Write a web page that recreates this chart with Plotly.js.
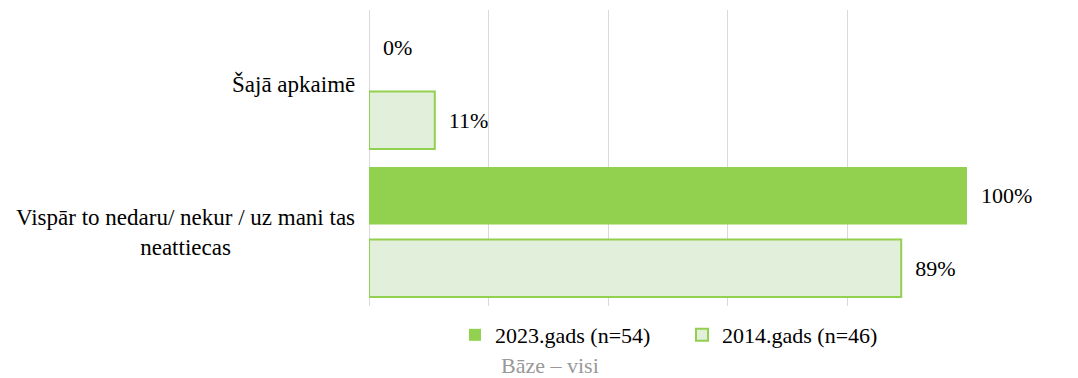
<!DOCTYPE html>
<html>
<head>
<meta charset="utf-8">
<script src="https://cdn.plot.ly/plotly-3.0.1.min.js"></script>
</head>
<body style="margin:0;background:#fff">
<div id="chart"></div>
<script>
const categories = ["Šajā apkaimē", "Vispār to nedaru/ nekur / uz mani tas<br>neattiecas"];
const seriesNames = ["2023.gads (n=54)", "2014.gads (n=46)"];
const values2023 = [0, 100];
const values2014 = [11, 89];
const baseNote = "Bāze – visi";

const FONT = 'Liberation Serif';
const NB = '\u00a0\u00a0';

const traces = [
  {
    type: 'bar', orientation: 'h', name: seriesNames[0], legend: 'legend',
    y: categories, x: values2023,
    marker: {color: '#92d050'},
    text: values2023.map(v => NB + v + '%'),
    textposition: 'outside', cliponaxis: false,
    textfont: {family: FONT, size: 22, color: '#000000'},
    hoverinfo: 'skip'
  },
  {
    type: 'bar', orientation: 'h', name: seriesNames[1], legend: 'legend2',
    y: categories, x: values2014,
    marker: {color: '#e2efda', line: {color: '#92d050', width: 2}},
    text: values2014.map(v => NB + v + '%'),
    textposition: 'outside', cliponaxis: false,
    textfont: {family: FONT, size: 22, color: '#000000'},
    hoverinfo: 'skip'
  }
];

const annotations = categories.map(c => ({
  xref: 'paper', yref: 'y', x: 0, y: c, xanchor: 'right', yanchor: 'middle',
  xshift: -12, text: c, showarrow: false, align: 'center',
  font: {family: FONT, size: 23, color: '#000000'}
}));
annotations.push({
  xref: 'paper', yref: 'paper', x: (550 - 369) / 598, y: -0.2, xanchor: 'center', yanchor: 'middle',
  text: baseNote, showarrow: false, font: {family: FONT, size: 22, color: '#999999'}
});

const legendBase = {orientation: 'h', xanchor: 'left', y: -0.098, yanchor: 'middle',
  font: {family: FONT, size: 22, color: '#000000'}, itemwidth: 30, bgcolor: 'rgba(0,0,0,0)'};

const layout = {
  width: 1078, height: 378,
  margin: {l: 369, r: 111, t: 10, b: 72},
  paper_bgcolor: '#ffffff', plot_bgcolor: '#ffffff',
  font: {family: FONT, size: 22, color: '#000000'},
  barmode: 'group', bargap: 0.02, bargroupgap: 0.207,
  xaxis: {range: [0, 100], dtick: 20, showticklabels: false, showgrid: true,
          gridcolor: '#d9d9d9', gridwidth: 1, zeroline: true, zerolinecolor: '#d9d9d9',
          zerolinewidth: 1, showline: false, fixedrange: true},
  yaxis: {autorange: 'reversed', showticklabels: false, showgrid: false, zeroline: false,
          showline: false, fixedrange: true},
  showlegend: true,
  legend: Object.assign({}, legendBase, {x: (455 - 369) / 598}),
  legend2: Object.assign({}, legendBase, {x: (682 - 369) / 598}),
  annotations: annotations,
  hovermode: false
};

Plotly.newPlot('chart', traces, layout, {displayModeBar: false, staticPlot: true});
</script>
</body>
</html>
